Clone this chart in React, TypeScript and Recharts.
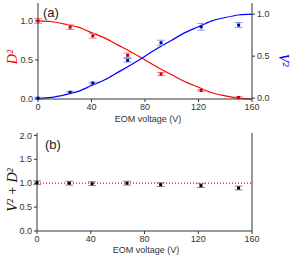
import {
  ComposedChart,
  ErrorBar,
  Line,
  ReferenceLine,
  Scatter,
  XAxis,
  YAxis,
} from "recharts"

// measured points
const voltages = [0, 24, 41, 67, 92, 122, 150]
const dSquared = [1.0, 0.92, 0.81, 0.56, 0.32, 0.11, 0.02]
const dErr = [0.03, 0.03, 0.03, 0.03, 0.02, 0.01, 0.01]
const vSquared = [0.0, 0.07, 0.18, 0.45, 0.66, 0.85, 0.87]
const vErr = [0.01, 0.01, 0.01, 0.02, 0.03, 0.04, 0.03]
const sumValues = [1.01, 1.0, 0.99, 1.0, 0.97, 0.95, 0.9]
const sumErr = [0.04, 0.04, 0.04, 0.04, 0.04, 0.04, 0.04]

// fitted curves
const fitVoltages = [0, 10, 20, 30, 40, 50, 60, 70, 80, 90, 100, 110, 120, 130, 140, 150, 160]
const fitD = [1.0, 0.99, 0.96, 0.92, 0.85, 0.78, 0.69, 0.6, 0.5, 0.4, 0.31, 0.22, 0.15, 0.08, 0.04, 0.01, 0.0]
const fitV = [0.0, 0.01, 0.04, 0.08, 0.15, 0.22, 0.31, 0.4, 0.5, 0.6, 0.69, 0.78, 0.85, 0.92, 0.96, 0.99, 1.0]

const xTicks = [0, 40, 80, 120, 160]

const points = voltages.map((v, i) => ({
  x: v,
  d: dSquared[i],
  dErr: dErr[i],
  v: vSquared[i],
  vErr: vErr[i],
  s: sumValues[i],
  sErr: sumErr[i],
}))
const fitData = fitVoltages.map((v, i) => ({ x: v, d: fitD[i], v: fitV[i] }))

const sans = "Liberation Sans, Arial, sans-serif"
const serif = "Liberation Serif, Times New Roman, serif"
const tickFont = { fontSize: 9, fontFamily: sans, fill: "#333" }
const axisColor = "#333"

const square = (color: string) => (props: any) => (
  <rect x={props.cx - 1.5} y={props.cy - 1.5} width={3} height={3} fill={color} />
)

export default function App() {
  return (
    <div style={{ position: "absolute", left: 0, top: 0, width: 291, height: 257, background: "#fff" }}>
      <ComposedChart width={291} height={125} data={points} margin={{ top: 3, right: 0, bottom: 0, left: 0 }}>
        <XAxis
          dataKey="x"
          type="number"
          domain={[0, 160]}
          ticks={xTicks}
          height={26}
          tick={tickFont}
          tickSize={3}
          stroke={axisColor}
        />
        <XAxis xAxisId="top" orientation="top" type="number" domain={[0, 160]} height={0} tick={false} stroke={axisColor} />
        <YAxis
          yAxisId="left"
          domain={[0, 1.23]}
          ticks={[0, 0.5, 1]}
          tickFormatter={(t: number) => t.toFixed(1)}
          width={38}
          tick={tickFont}
          tickSize={3}
          stroke={axisColor}
        />
        <YAxis
          yAxisId="right"
          orientation="right"
          domain={[0, 1.133]}
          ticks={[0, 0.5, 1]}
          tickFormatter={(t: number) => t.toFixed(1)}
          width={39}
          tick={tickFont}
          tickSize={3}
          stroke={axisColor}
        />
        <Line
          yAxisId="left"
          data={fitData}
          dataKey="d"
          type="monotone"
          stroke="#ff0000"
          strokeWidth={1.2}
          dot={false}
          isAnimationActive={false}
        />
        <Line
          yAxisId="right"
          data={fitData}
          dataKey="v"
          type="monotone"
          stroke="#0000ff"
          strokeWidth={1.2}
          dot={false}
          isAnimationActive={false}
        />
        <Scatter yAxisId="left" dataKey="d" shape={square("#cc0000")} isAnimationActive={false}>
          <ErrorBar dataKey="dErr" direction="y" width={4} stroke="#f08080" strokeWidth={1} />
        </Scatter>
        <Scatter yAxisId="right" dataKey="v" shape={square("#000099")} isAnimationActive={false}>
          <ErrorBar dataKey="vErr" direction="y" width={4} stroke="#7f9fff" strokeWidth={1} />
        </Scatter>
        <text x={148} y={122} textAnchor="middle" fontSize={9} fontFamily={sans} fill="#333">
          EOM voltage (V)
        </text>
        <text x={43} y={17} fontSize={13} fontFamily={sans} fill="#222">
          (a)
        </text>
        <text
          x={17}
          y={57}
          transform="rotate(-90 17 57)"
          textAnchor="middle"
          fontSize={14}
          fontStyle="italic"
          fontFamily={serif}
          fill="#ff0000"
        >
          D²
        </text>
        <text
          x={279}
          y={60}
          transform="rotate(90 279 60)"
          textAnchor="middle"
          fontSize={14}
          fontStyle="italic"
          fontFamily={serif}
          fill="#0000ff"
        >
          V²
        </text>
      </ComposedChart>
      <ComposedChart width={291} height={132} data={points} margin={{ top: 8, right: 0, bottom: 0, left: 0 }}>
        <XAxis
          dataKey="x"
          type="number"
          domain={[0, 160]}
          ticks={xTicks}
          height={26}
          tick={tickFont}
          tickSize={3}
          stroke={axisColor}
        />
        <XAxis xAxisId="top" orientation="top" type="number" domain={[0, 160]} height={0} tick={false} stroke={axisColor} />
        <YAxis
          domain={[0, 2.05]}
          ticks={[0, 0.5, 1, 1.5, 2]}
          tickFormatter={(t: number) => t.toFixed(1)}
          width={37}
          tick={tickFont}
          tickSize={3}
          stroke={axisColor}
        />
        <YAxis yAxisId="r" orientation="right" domain={[0, 2.05]} width={39} tick={false} stroke={axisColor} />
        <ReferenceLine y={1} stroke="#ff0000" strokeDasharray="1 2" strokeWidth={1.2} />
        <Scatter dataKey="s" shape={square("#000")} isAnimationActive={false}>
          <ErrorBar dataKey="sErr" direction="y" width={4} stroke="#888" strokeWidth={1} />
        </Scatter>
        <text x={146} y={128} textAnchor="middle" fontSize={9} fontFamily={sans} fill="#333">
          EOM voltage (V)
        </text>
        <text x={45} y={24} fontSize={13} fontFamily={sans} fill="#222">
          (b)
        </text>
        <text
          x={17}
          y={65}
          transform="rotate(-90 17 65)"
          textAnchor="middle"
          fontSize={14}
          fontStyle="italic"
          fontFamily={serif}
          fill="#111"
        >
          V² + D²
        </text>
      </ComposedChart>
    </div>
  )
}
